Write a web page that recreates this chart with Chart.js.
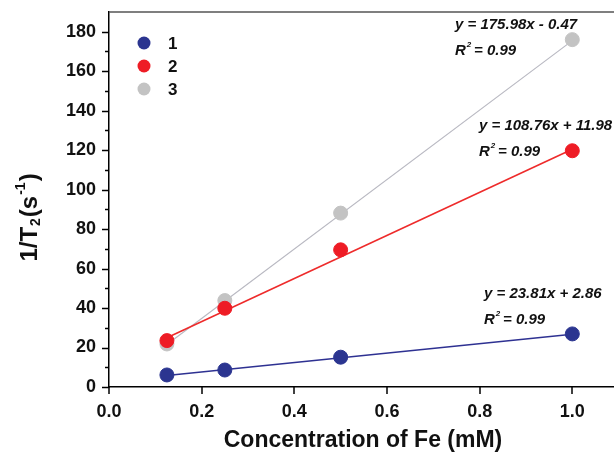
<!DOCTYPE html>
<html>
<head>
<meta charset="utf-8">
<script src="https://cdn.jsdelivr.net/npm/chart.js@4"></script>
<style>
  html, body { margin: 0; padding: 0; background: #fff; }
  #wrap { width: 614px; height: 458px; }
</style>
</head>
<body>
<div id="wrap"><canvas id="c" width="614" height="458"></canvas></div>
<script>
// concentrations (mM)
const conc = [0.125, 0.25, 0.5, 1.0]
const seriesNames = ["1", "2", "3"]
// 1/T2 (s^-1)
const r1 = [6.1, 8.6, 15.1, 26.9]
const r2 = [23.5, 39.9, 69.5, 119.7]
const r3 = [21.8, 43.8, 88.1, 176.0]
// fitted line end points (x = 0.125 and x = 1.0)
const fitX = [0.125, 1.0]
const fit1 = [5.8, 26.7]
const fit2 = [25.0, 120.5]
const fit3 = [21.5, 175.5]
const fitText = [
  ["y = 23.81x + 2.86", "R", "2", " = 0.99"],
  ["y = 108.76x + 11.98", "R", "2", " = 0.99"],
  ["y = 175.98x - 0.47", "R", "2", " = 0.99"]
]
const xTicks = [0, 0.2, 0.4, 0.6, 0.8, 1.0]
const yTicks = [0, 20, 40, 60, 80, 100, 120, 140, 160, 180]

const colors = ["#2b3590", "#ee1c25", "#c3c3c3"]
const lineColors = ["#2e3192", "#ee2b2b", "#b9b9c2"]
const FONT = "'Liberation Sans', Arial, sans-serif"

const toPts = (xs, ys) => xs.map((x, i) => ({ x: x, y: ys[i] }))

const fitDs = (ys, i) => ({
  data: toPts(fitX, ys),
  showLine: true,
  borderColor: lineColors[i],
  borderWidth: i === 2 ? 1.2 : 1.6,
  pointRadius: 0,
  fill: false,
  order: 2
})
const ptDs = (ys, i) => ({
  label: seriesNames[i],
  data: toPts(conc, ys),
  showLine: false,
  backgroundColor: colors[i],
  borderColor: colors[i],
  pointRadius: 7,
  pointHoverRadius: 7,
  order: 1
})

// ticks, frame, legend, annotations and axis titles
const decor = {
  id: "decor",
  afterDraw(chart) {
    const ctx = chart.ctx
    const { left, right, top, bottom } = chart.chartArea
    const xs = chart.scales.x, ys = chart.scales.y
    ctx.save()
    // top frame line
    ctx.strokeStyle = "#555"
    ctx.lineWidth = 1.5
    ctx.beginPath(); ctx.moveTo(left, top); ctx.lineTo(right, top); ctx.stroke()
    // ticks
    ctx.strokeStyle = "#000"
    ctx.lineWidth = 1.5
    for (let v = 0; v <= 180; v += 10) {
      const p = Math.round(ys.getPixelForValue(v)) + 0.5
      const len = v % 20 === 0 ? 7 : 4
      ctx.beginPath(); ctx.moveTo(left - len, p); ctx.lineTo(left, p); ctx.stroke()
    }
    xTicks.forEach(v => {
      const p = Math.round(xs.getPixelForValue(v))
      ctx.beginPath(); ctx.moveTo(p, bottom); ctx.lineTo(p, bottom + 7); ctx.stroke()
    })
    // legend
    ctx.font = "bold 17px " + FONT
    ctx.textBaseline = "middle"
    ctx.textAlign = "left"
    seriesNames.forEach((n, i) => {
      const cy = 43 + i * 23
      ctx.fillStyle = colors[i]
      ctx.beginPath(); ctx.arc(144, cy, 6.5, 0, Math.PI * 2); ctx.fill()
      ctx.fillStyle = "#111"
      ctx.fillText(n, 168, cy + 1)
    })
    // fit annotations
    const annPos = [[484, 294], [479, 126], [455, 25]]
    fitText.forEach((t, i) => {
      const [ax, ay] = annPos[i]
      ctx.fillStyle = "#111"
      ctx.font = "italic bold 15px " + FONT
      ctx.fillText(t[0], ax, ay)
      ctx.fillText(t[1], ax, ay + 26)
      const w = ctx.measureText(t[1]).width
      ctx.font = "italic bold 8px " + FONT
      ctx.fillText(t[2], ax + w + 1, ay + 20)
      ctx.font = "italic bold 15px " + FONT
      ctx.fillText(t[3], ax + w + 4, ay + 26)
    })
    // x title
    ctx.font = "bold 23px " + FONT
    ctx.textAlign = "center"
    ctx.fillText("Concentration of Fe (mM)", 363, 441)
    // y title, rotated
    ctx.translate(30, 217)
    ctx.rotate(-Math.PI / 2)
    const parts = [
      ["1/T", "bold 24px ", 0],
      ["2", "bold 14px ", 6],
      ["(s", "bold 24px ", 0],
      ["-1", "bold 14px ", -9],
      [")", "bold 24px ", 0]
    ]
    let total = 0
    parts.forEach(p => { ctx.font = p[1] + FONT; total += ctx.measureText(p[0]).width + 1 })
    let cx = -total / 2
    ctx.textAlign = "left"
    parts.forEach(p => {
      ctx.font = p[1] + FONT
      ctx.fillText(p[0], cx, p[2])
      cx += ctx.measureText(p[0]).width + 1
    })
    ctx.restore()
  }
}

new Chart(document.getElementById("c"), {
  type: "scatter",
  data: {
    datasets: [
      fitDs(fit1, 0), fitDs(fit2, 1), fitDs(fit3, 2),
      ptDs(r1, 0), ptDs(r2, 1), ptDs(r3, 2)
    ]
  },
  options: {
    responsive: false,
    animation: false,
    layout: { autoPadding: false, padding: { top: 12, right: 0, left: 0, bottom: 0 } },
    plugins: {
      legend: { display: false },
      tooltip: { enabled: false }
    },
    scales: {
      x: {
        type: "linear",
        min: 0,
        max: 1.09,
        afterBuildTicks: s => { s.ticks = xTicks.map(v => ({ value: v })) },
        afterFit: s => { s.height = 71; s.paddingLeft = 0; s.paddingRight = 0 },
        grid: { display: false, drawTicks: false },
        border: { display: true, color: "#000", width: 1.5 },
        ticks: {
          padding: 14,
          color: "#111",
          font: { family: FONT, size: 18, weight: "bold" },
          callback: v => v.toFixed(1)
        }
      },
      y: {
        type: "linear",
        min: 0,
        max: 190,
        afterBuildTicks: s => { s.ticks = yTicks.map(v => ({ value: v })) },
        afterFit: s => { s.width = 109; s.paddingTop = 0; s.paddingBottom = 0 },
        grid: { display: false, drawTicks: false },
        border: { display: true, color: "#000", width: 1.5 },
        ticks: {
          padding: 13,
          color: "#111",
          font: { family: FONT, size: 18, weight: "bold" }
        }
      }
    }
  },
  plugins: [decor]
})
</script>
</body>
</html>
